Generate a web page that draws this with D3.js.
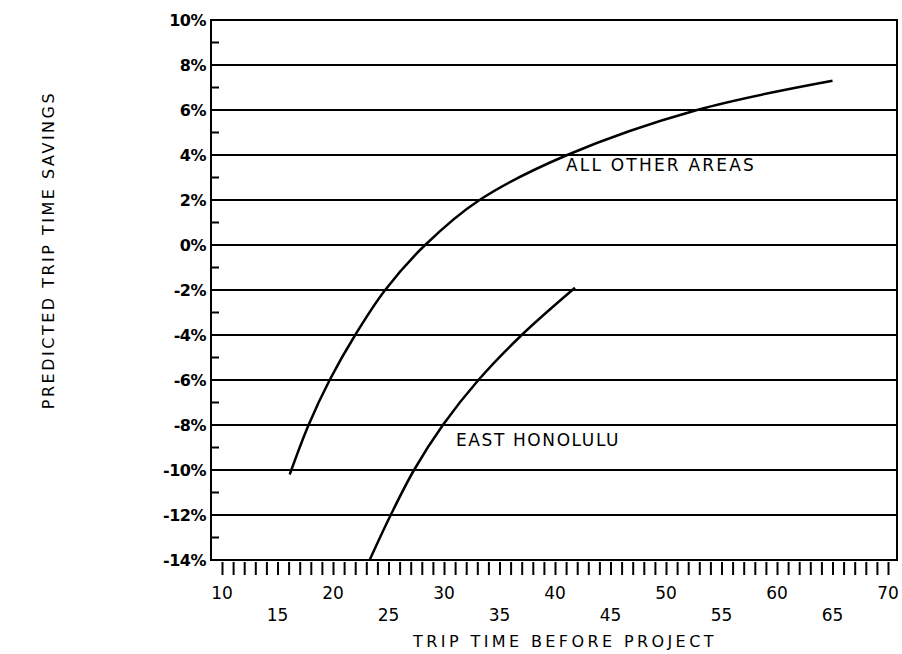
<!DOCTYPE html>
<html>
<head>
<meta charset="utf-8" />
<title>Predicted trip time savings</title>
<style>
  body { margin: 0; background: #fff; }
  svg text { font-family: "DejaVu Sans", sans-serif; fill: #000; }
</style>
</head>
<body>
<div id="chart"></div>
<script src="https://d3js.org/d3.v7.min.js"></script>
<script>
// values
var otherX = [16.1, 17.8, 19.7, 22.0, 24.7, 28.3, 33.2, 41.1, 52.8, 65.0];
var otherY = [-10.2, -8, -6, -4, -2, 0, 2, 4, 6, 7.3];
var eastX = [23.3, 25.2, 27.3, 29.9, 33.1, 37.0, 41.8];
var eastY = [-14, -12, -10, -8, -6, -4, -1.9];
var xTicksRow1 = [10, 20, 30, 40, 50, 60, 70];
var xTicksRow2 = [15, 25, 35, 45, 55, 65];
var yTicks = [10, 8, 6, 4, 2, 0, -2, -4, -6, -8, -10, -12, -14];

var width = 902, height = 654;
var margin = {top: 20, right: 5, bottom: 94, left: 211};

var svg = d3.select("#chart").append("svg")
  .attr("width", width)
  .attr("height", height);

var x = d3.scaleLinear().domain([10, 70]).range([222, 888]);
var y = d3.scaleLinear().domain([-14, 10]).range([height - margin.bottom, margin.top]);

var x0 = margin.left, x1 = width - margin.right;

// gridlines at every labelled percent
svg.append("g")
  .selectAll("line")
  .data(yTicks)
  .enter().append("line")
  .attr("x1", x0).attr("x2", x1)
  .attr("y1", d => y(d)).attr("y2", d => y(d))
  .attr("stroke", "#000").attr("stroke-width", 2);

// frame
svg.append("rect")
  .attr("x", x0).attr("y", y(10))
  .attr("width", x1 - x0).attr("height", y(-14) - y(10))
  .attr("fill", "none").attr("stroke", "#000").attr("stroke-width", 2);

// minor y ticks (odd values) pointing inward
svg.append("g")
  .selectAll("line")
  .data(d3.range(-13, 10, 2))
  .enter().append("line")
  .attr("x1", x0).attr("x2", x0 + 8)
  .attr("y1", d => y(d)).attr("y2", d => y(d))
  .attr("stroke", "#000").attr("stroke-width", 2);

// y labels
svg.append("g")
  .selectAll("text")
  .data(yTicks)
  .enter().append("text")
  .attr("x", x0 - 5)
  .attr("y", d => y(d) + 6)
  .attr("text-anchor", "end")
  .attr("font-size", 16)
  .attr("font-weight", "bold")
  .attr("letter-spacing", -0.5)
  .text(d => (d < 0 ? "-" + Math.abs(d) : d) + "%");

// x ticks every minute, hanging below the axis
var xAxis = d3.axisBottom(x)
  .tickValues(d3.range(10, 71, 1))
  .tickSize(13)
  .tickFormat("");
svg.append("g")
  .attr("transform", "translate(0," + (y(-14) + 2) + ")")
  .call(xAxis)
  .call(g => g.select(".domain").remove())
  .call(g => g.selectAll(".tick line").attr("stroke-width", 2));

svg.append("g")
  .selectAll("text")
  .data(xTicksRow1)
  .enter().append("text")
  .attr("x", d => x(d))
  .attr("y", 599)
  .attr("text-anchor", "middle")
  .attr("font-size", 17)
  .text(d => d);

svg.append("g")
  .selectAll("text")
  .data(xTicksRow2)
  .enter().append("text")
  .attr("x", d => x(d))
  .attr("y", 621)
  .attr("text-anchor", "middle")
  .attr("font-size", 17)
  .text(d => d);

// curves
var line = d3.line()
  .x(d => x(d[0]))
  .y(d => y(d[1]))
  .curve(d3.curveCatmullRom.alpha(0.5));

svg.append("path")
  .datum(d3.zip(otherX, otherY))
  .attr("d", line)
  .attr("fill", "none").attr("stroke", "#000").attr("stroke-width", 2.5);

svg.append("path")
  .datum(d3.zip(eastX, eastY))
  .attr("d", line)
  .attr("fill", "none").attr("stroke", "#000").attr("stroke-width", 2.5);

// curve labels
svg.append("text")
  .attr("x", 566).attr("y", 171)
  .attr("font-size", 17)
  .attr("letter-spacing", 2.2)
  .text("ALL OTHER AREAS");

svg.append("text")
  .attr("x", 456).attr("y", 446)
  .attr("font-size", 17)
  .attr("letter-spacing", 1.6)
  .text("EAST HONOLULU");

// axis titles
svg.append("text")
  .attr("x", 565).attr("y", 647)
  .attr("text-anchor", "middle")
  .attr("font-size", 16)
  .attr("letter-spacing", 3.4)
  .text("TRIP TIME BEFORE PROJECT");

svg.append("text")
  .attr("transform", "translate(54,250) rotate(-90)")
  .attr("text-anchor", "middle")
  .attr("font-size", 16)
  .attr("letter-spacing", 2.5)
  .text("PREDICTED TRIP TIME SAVINGS");
</script>
</body>
</html>
